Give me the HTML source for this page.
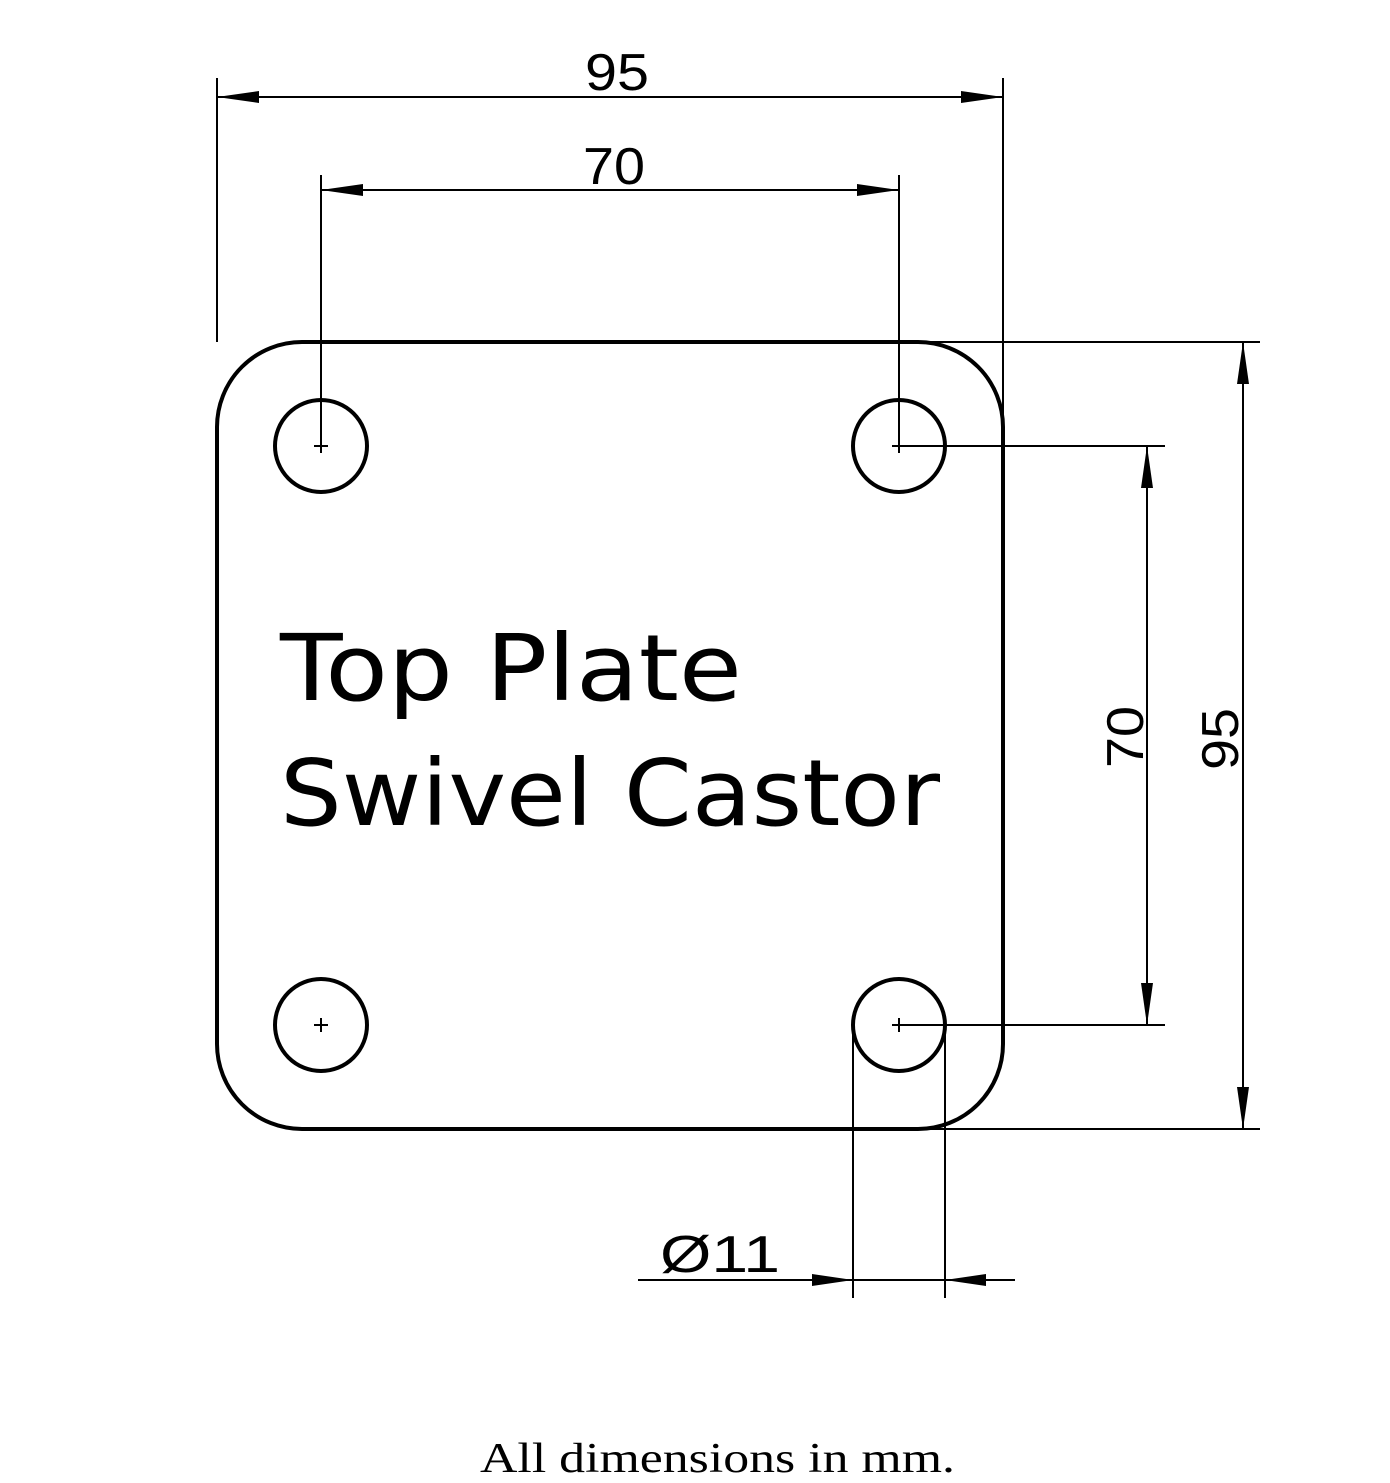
<!DOCTYPE html>
<html><head><style>html,body{margin:0;padding:0;background:#fff}svg{display:block}</style></head>
<body>
<svg width="1390" height="1483" viewBox="0 0 1390 1483" xmlns="http://www.w3.org/2000/svg">
<g fill="none" stroke="#000">
<rect x="217" y="342" width="786" height="787" rx="85" ry="85" stroke-width="4"/>
<circle cx="321" cy="446" r="46" stroke-width="4"/>
<circle cx="899" cy="446" r="46" stroke-width="4"/>
<circle cx="321" cy="1025" r="46" stroke-width="4"/>
<circle cx="899" cy="1025" r="46" stroke-width="4"/>
<g stroke-width="2">
<path d="M314 446h14M321 439v14M892 446h14M899 439v14M314 1025h14M321 1018v14M892 1025h14M899 1018v14"/>
<path d="M217 78V342M1003 78V420M217 97H1003"/>
<path d="M321 175V446M899 175V446M321 190H899"/>
<path d="M925 342H1260M925 1129H1260M1243 342V1129"/>
<path d="M899 446H1165M899 1025H1165M1147 446V1025"/>
<path d="M853 1030V1298M945 1030V1298M638 1280H1015"/>
</g>
</g>
<g fill="#000">
<polygon points="217,97 259,91 259,103"/>
<polygon points="1003,97 961,91 961,103"/>
<polygon points="321,190 363,184 363,196"/>
<polygon points="899,190 857,184 857,196"/>
<polygon points="1243,342 1237,384 1249,384"/>
<polygon points="1243,1129 1237,1087 1249,1087"/>
<polygon points="1147,446 1141,488 1153,488"/>
<polygon points="1147,1025 1141,983 1153,983"/>
<polygon points="853,1280 812,1274 812,1286"/>
<polygon points="945,1280 986,1274 986,1286"/>
</g>
<g font-family="Liberation Sans, sans-serif" font-size="52" fill="#000" style="font-weight:300">
<text x="585" y="90" textLength="64" lengthAdjust="spacingAndGlyphs">95</text>
<text x="583" y="184" textLength="62" lengthAdjust="spacingAndGlyphs">70</text>
<text transform="translate(1238,770) rotate(-90)" textLength="62" lengthAdjust="spacingAndGlyphs">95</text>
<text transform="translate(1143,768) rotate(-90)" textLength="62" lengthAdjust="spacingAndGlyphs">70</text>
<text x="660" y="1272" textLength="120" lengthAdjust="spacingAndGlyphs">Ø11</text>
</g>
<g font-family="DejaVu Sans, sans-serif" font-size="92" fill="#000">
<text x="280" y="700" textLength="462" lengthAdjust="spacingAndGlyphs">Top Plate</text>
<text x="280" y="825" textLength="660" lengthAdjust="spacingAndGlyphs">Swivel Castor</text>
</g>
<text x="480" y="1472" textLength="475" lengthAdjust="spacingAndGlyphs" font-family="Liberation Serif, serif" font-size="42" fill="#000">All dimensions in mm.</text>
</svg>
</body></html>
